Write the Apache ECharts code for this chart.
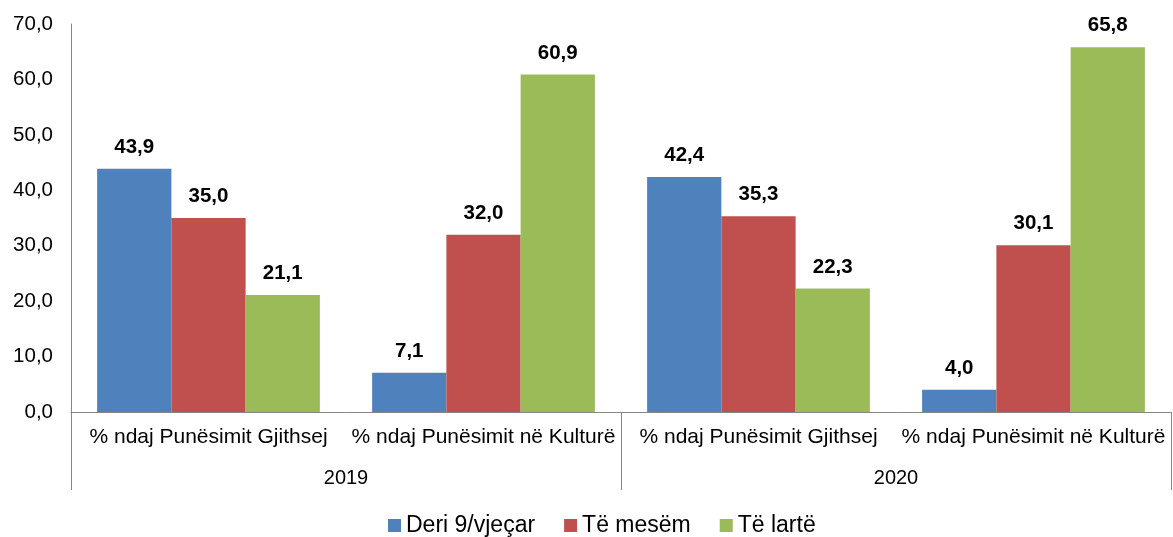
<!DOCTYPE html>
<html>
<head>
<meta charset="utf-8">
<script src="https://cdn.jsdelivr.net/npm/echarts@6/dist/echarts.min.js"></script>
<style>
  html, body { margin: 0; padding: 0; background: #fff; }
  #chart { width: 1173px; height: 537px; }
</style>
</head>
<body>
<div id="chart"></div>
<script>
const categories = [
  '% ndaj Punësimit Gjithsej', '% ndaj Punësimit në Kulturë',
  '% ndaj Punësimit Gjithsej', '% ndaj Punësimit në Kulturë'
]
const years = ['2019', '2020']
const seriesNames = ['Deri 9/vjeçar', 'Të mesëm', 'Të lartë']
const colors = ['#4F81BD', '#C0504D', '#9BBB59']
const basic = [43.9, 7.1, 42.4, 4.0]
const medium = [35.0, 32.0, 35.3, 30.1]
const higher = [21.1, 60.9, 22.3, 65.8]
const seriesData = [basic, medium, higher]

const fmt = v => (+v).toFixed(1).replace('.', ',')
const font = 'Liberation Sans, Arial, sans-serif'

const chart = echarts.init(document.getElementById('chart'))
chart.setOption({
  animation: false,
  textStyle: { fontFamily: font },
  grid: { left: 71, right: 2, top: 24, bottom: 125 },
  legend: {
    top: 509,
    left: 383,
    itemWidth: 13,
    itemHeight: 13,
    itemGap: 29,
    icon: 'rect',
    textStyle: { fontSize: 23, color: '#000', fontFamily: font },
    data: seriesNames
  },
  xAxis: [
    {
      type: 'category',
      data: categories,
      axisLine: { lineStyle: { color: '#868686', width: 1 } },
      axisTick: { show: false },
      axisLabel: { color: '#000', fontSize: 21, margin: 15, interval: 0, fontFamily: font }
    },
    {
      type: 'category',
      data: years,
      position: 'bottom',
      axisLine: { show: false },
      axisTick: { show: true, length: 78, interval: 0, lineStyle: { color: '#868686' } },
      axisLabel: { color: '#000', fontSize: 20, margin: 56, fontFamily: font }
    }
  ],
  yAxis: {
    type: 'value',
    min: 0,
    max: 70,
    interval: 10,
    axisLine: { show: true, lineStyle: { color: '#868686' } },
    axisTick: { show: false },
    splitLine: { show: false },
    axisLabel: { color: '#000', fontSize: 20.5, margin: 18, formatter: fmt, fontFamily: font }
  },
  series: seriesNames.map((name, i) => ({
    name,
    type: 'bar',
    xAxisIndex: 0,
    data: seriesData[i],
    barGap: '0%',
    barCategoryGap: '19%',
    itemStyle: { color: colors[i] },
    label: {
      show: true,
      position: 'top',
      distance: 11,
      formatter: p => fmt(p.value),
      color: '#000',
      fontWeight: 'bold',
      fontSize: 20.5,
      fontFamily: font
    }
  }))
})
</script>
</body>
</html>
